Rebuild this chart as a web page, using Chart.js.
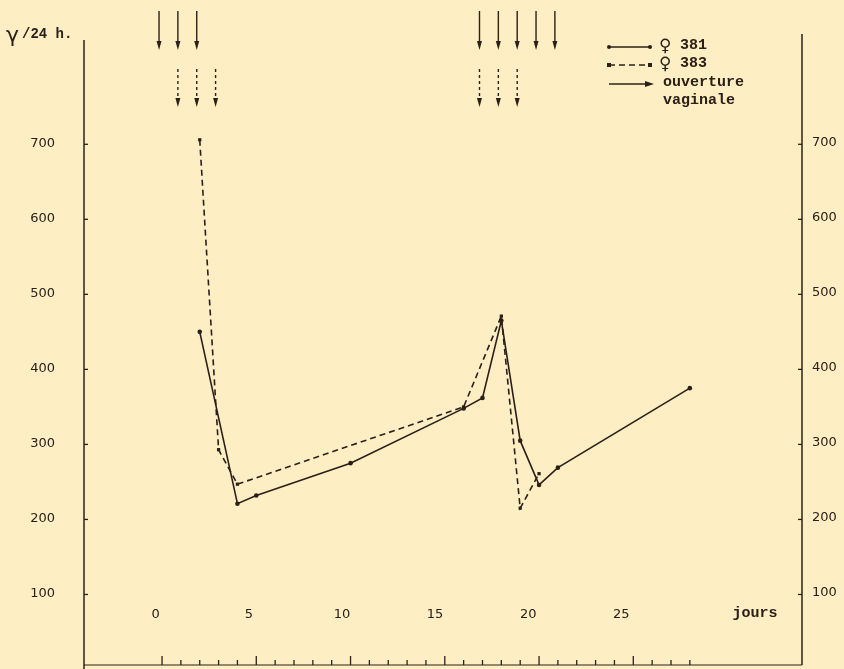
<!DOCTYPE html>
<html><head><meta charset="utf-8">
<script src="https://cdn.jsdelivr.net/npm/chart.js@4/dist/chart.umd.min.js"></script>
<style>html,body{margin:0;padding:0;background:#FDEEC4;}canvas{display:block}</style>
</head><body>
<canvas id="c" width="844" height="669"></canvas>
<script>
// ---- data ----
const days381 = [2, 4, 5, 10, 16, 17, 18, 19, 20, 21, 28];
const values381 = [450, 221, 232, 275, 348, 362, 465, 305, 246, 269, 375];
const days383 = [2, 3, 4, 16, 18, 19, 20];
const values383 = [706, 293, 247, 350, 471, 215, 261];
const yTicks = [100, 200, 300, 400, 500, 600, 700];
const xTickLabels = [0, 5, 10, 15, 20, 25];
const dayTicks = [0,1,2,3,4,5,6,7,8,9,10,11,12,13,14,15,16,17,18,19,20,21,22,23,24,25,26,27,28];
const arrowDays381 = [0, 1, 2, 17, 18, 19, 20, 21];
const arrowDays383 = [1, 2, 3, 17, 18, 19];
const femaleSign = '\u2640';
const seriesIds = ['381', '383'];
const arrowLegend = ['ouverture', 'vaginale'];
const xUnit = 'jours';
const ySymbol = '\u03b3';
const yUnit = '/24 h.';

const INK = '#2b2018';
const BG = '#FDEEC4';

function pts(days, vals) { return days.map((d, i) => ({ x: d, y: vals[i] })); }

function arrow(ctx, x, y0, y1, dashed) {
  ctx.save();
  ctx.strokeStyle = INK; ctx.fillStyle = INK; ctx.lineWidth = 1.4;
  ctx.setLineDash(dashed ? [3, 3] : []);
  ctx.beginPath(); ctx.moveTo(x, y0); ctx.lineTo(x, y1 - 6); ctx.stroke();
  ctx.setLineDash([]);
  ctx.beginPath(); ctx.moveTo(x - 2.5, y1 - 9); ctx.lineTo(x + 2.5, y1 - 9); ctx.lineTo(x, y1); ctx.closePath(); ctx.fill();
  ctx.restore();
}

const decor = {
  id: 'decor',
  beforeDraw(chart) {
    const ctx = chart.ctx;
    ctx.save(); ctx.fillStyle = BG; ctx.fillRect(0, 0, chart.width, chart.height); ctx.restore();
  },
  beforeDatasetsDraw(chart) {
    const ctx = chart.ctx, a = chart.chartArea;
    const x = chart.scales.x, xl = chart.scales.xl, y = chart.scales.y;
    ctx.save();
    ctx.strokeStyle = INK; ctx.fillStyle = INK; ctx.lineWidth = 1.5;
    // axes lines
    ctx.beginPath(); ctx.moveTo(a.left, a.top); ctx.lineTo(a.left, chart.height); ctx.stroke();
    ctx.beginPath(); ctx.moveTo(a.right, a.top - 6); ctx.lineTo(a.right, a.bottom); ctx.stroke();
    ctx.lineWidth = 1;
    ctx.beginPath(); ctx.moveTo(a.left, a.bottom); ctx.lineTo(a.right, a.bottom); ctx.stroke();
    // y ticks
    ctx.lineWidth = 1.3;
    yTicks.forEach(v => {
      const py = y.getPixelForValue(v);
      ctx.beginPath(); ctx.moveTo(a.left, py); ctx.lineTo(a.left + 4, py); ctx.stroke();
      ctx.beginPath(); ctx.moveTo(a.right, py); ctx.lineTo(a.right - 4, py); ctx.stroke();
    });
    ctx.font = '13px "DejaVu Sans"'; ctx.textBaseline = 'middle';
    yTicks.forEach(v => {
      const py = y.getPixelForValue(v);
      ctx.textAlign = 'right'; ctx.fillText(String(v), 55, py - 1);
      ctx.textAlign = 'left'; ctx.fillText(String(v), 812, py - 2);
    });
    // x ticks
    dayTicks.forEach(d => {
      const px = x.getPixelForValue(d);
      const len = d % 5 === 0 ? 9 : 5;
      ctx.beginPath(); ctx.moveTo(px, a.bottom); ctx.lineTo(px, a.bottom - len); ctx.stroke();
    });
    ctx.textAlign = 'center';
    xTickLabels.forEach(v => {
      ctx.fillText(String(v), xl.getPixelForValue(v), 615);
    });
    ctx.font = 'bold 15px "Liberation Mono"';
    ctx.fillText(xUnit, 755, 613);
    // y unit
    ctx.textAlign = 'left'; ctx.textBaseline = 'alphabetic';
    ctx.font = '22px "DejaVu Sans"';
    ctx.fillText(ySymbol, 6, 42);
    ctx.font = 'bold 14px "Liberation Mono"';
    ctx.fillText(yUnit, 22, 38);
    // arrows
    arrowDays381.forEach(d => arrow(ctx, x.getPixelForValue(d) - 3, 11, 50, false));
    arrowDays383.forEach(d => arrow(ctx, x.getPixelForValue(d) - 3, 69, 107, true));
    // legend
    const ds = chart.data.datasets;
    const rows = [47, 65];
    ds.forEach((s, i) => {
      const ly = rows[i];
      ctx.save();
      ctx.lineWidth = 1.4; ctx.setLineDash(s.borderDash || []);
      ctx.beginPath(); ctx.moveTo(609, ly); ctx.lineTo(650, ly); ctx.stroke();
      ctx.restore();
      [609, 650].forEach(px => {
        ctx.beginPath();
        if (s.pointStyle === 'rect') ctx.rect(px - 2, ly - 2, 4, 4); else ctx.arc(px, ly, 2, 0, Math.PI * 2);
        ctx.fill();
      });
      ctx.textBaseline = 'middle'; ctx.textAlign = 'left';
      ctx.font = 'bold 17px "DejaVu Sans"';
      ctx.fillText(femaleSign, 659, ly);
      ctx.font = 'bold 15px "Liberation Mono"';
      ctx.fillText(seriesIds[i], 680, ly - 2);
    });
    ctx.lineWidth = 1.4;
    ctx.beginPath(); ctx.moveTo(609, 84); ctx.lineTo(646, 84); ctx.stroke();
    ctx.beginPath(); ctx.moveTo(645, 81); ctx.lineTo(654, 84); ctx.lineTo(645, 87); ctx.closePath(); ctx.fill();
    ctx.font = 'bold 15px "Liberation Mono"'; ctx.textBaseline = 'middle'; ctx.textAlign = 'left';
    ctx.fillText(arrowLegend[0], 663, 82);
    ctx.fillText(arrowLegend[1], 663, 100);
    ctx.restore();
  }
};

new Chart(document.getElementById('c'), {
  type: 'line',
  data: {
    datasets: [
      { label: femaleSign + ' ' + seriesIds[0], data: pts(days381, values381), borderColor: INK, backgroundColor: INK,
        borderWidth: 1.6, pointRadius: 2.3, pointStyle: 'circle', pointBackgroundColor: INK, pointBorderWidth: 0, tension: 0 },
      { label: femaleSign + ' ' + seriesIds[1], data: pts(days383, values383), borderColor: INK, backgroundColor: INK,
        borderWidth: 1.6, borderDash: [6, 4], pointRadius: 2.3, pointStyle: 'rect', pointBackgroundColor: INK, pointBorderWidth: 0, tension: 0 }
    ]
  },
  options: {
    responsive: false, animation: false, events: [],
    layout: { padding: { left: 84, right: 42, top: 40, bottom: 2 } },
    plugins: { legend: { display: false }, tooltip: { enabled: false }, title: { display: false } },
    scales: {
      x: { type: 'linear', min: -4.14, max: 33.95, display: false },
      xl: { type: 'linear', axis: 'x', min: -3.85, max: 34.7, display: false },
      y: { type: 'linear', min: 6, max: 839, display: false }
    }
  },
  plugins: [decor]
});
</script>
</body></html>
